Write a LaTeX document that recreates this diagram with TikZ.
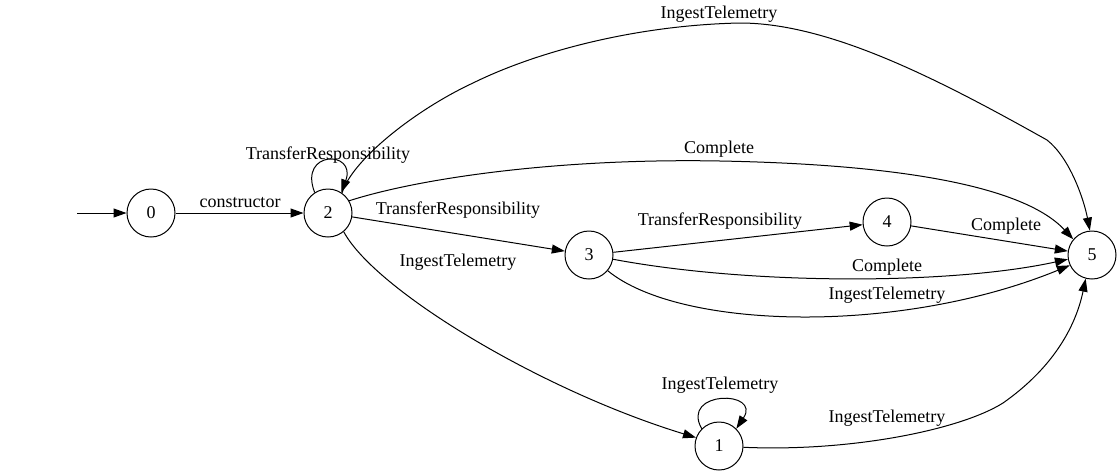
\documentclass[tikz,border=0pt]{standalone}
\usepackage{fontspec}
\setmainfont{Liberation Serif}
\usetikzlibrary{arrows.meta}
\begin{document}
\begin{tikzpicture}[x=1pt,y=-1pt,
  state/.style={draw,circle,minimum size=48pt,inner sep=0pt,line width=1pt,font=\fontsize{18}{20}\selectfont},
  conn/.style={line width=1pt,-{Triangle[length=13pt,width=9pt]}},
  lbl/.style={font=\fontsize{18}{20}\selectfont,inner sep=0pt}]
\useasboundingbox (0,0) rectangle (1120,475);
\node[state] (0) at (151,213) {0};
\node[state] (2) at (328,213) {2};
\node[state] (3) at (589,255) {3};
\node[state] (4) at (887,222) {4};
\node[state] (5) at (1092,255) {5};
\node[state] (1) at (719,446) {1};
\coordinate (start) at (77,213);

\draw[conn] (start) -- (0);
\draw[conn] (0) -- (2);
\node[lbl] (l02) at (240,203) {constructor};

% loop on 2
\draw[conn] (2.123) .. controls (298,150) and (357,150) .. (2.57);
\node[lbl] (l22) at (328,155) {TransferResponsibility};

% 2 -> 5 IngestTelemetry (top)
\draw[conn] (2.55) .. controls (352,160) and (415,110) .. (473,83)
  .. controls (540,50) and (640,25) .. (740,23)
  .. controls (830,23) and (940,80) .. (1047,140)
  .. controls (1070,158) and (1084,200) .. (5.95);
\node[lbl] (l25a) at (719,14) {IngestTelemetry};

% 2 -> 5 Complete
\draw[conn] (2.30) .. controls (420,178) and (560,158) .. (720,161)
  .. controls (880,164) and (1020,182) .. (5.140);
\node[lbl] (l25b) at (719,149) {Complete};

% 2 -> 3
\draw[conn] (2) -- (3);
\node[lbl] (l23) at (458,210) {TransferResponsibility};

% 2 -> 1
\draw[conn] (2.-50) .. controls (375,290) and (540,390) .. (1.160);
\node[lbl] (l21) at (458,262) {IngestTelemetry};

% 3 -> 4
\draw[conn] (3) -- (4);
\node[lbl] (l34) at (720,221) {TransferResponsibility};

% 4 -> 5
\draw[conn] (4) -- (5);
\node[lbl] (l45) at (1006,226) {Complete};

% 3 -> 5 Complete
\draw[conn] (3.-10) .. controls (750,285) and (950,285) .. (5.190);
\node[lbl] (l35a) at (887,267) {Complete};

% 3 -> 5 IngestTelemetry
\draw[conn] (3.-40) .. controls (680,330) and (900,335) .. (5.205);
\node[lbl] (l35b) at (887,295) {IngestTelemetry};

% loop on 1
\draw[conn] (1.135) .. controls (680,390) and (762,390) .. (1.45);
\node[lbl] (l11) at (720,385) {IngestTelemetry};

% 1 -> 5
\draw[conn] (1.-3) .. controls (850,452) and (960,430) .. (1003,403)
  .. controls (1050,370) and (1075,330) .. (5.-105);
\node[lbl] (l15) at (887,418) {IngestTelemetry};
\end{tikzpicture}
\end{document}
